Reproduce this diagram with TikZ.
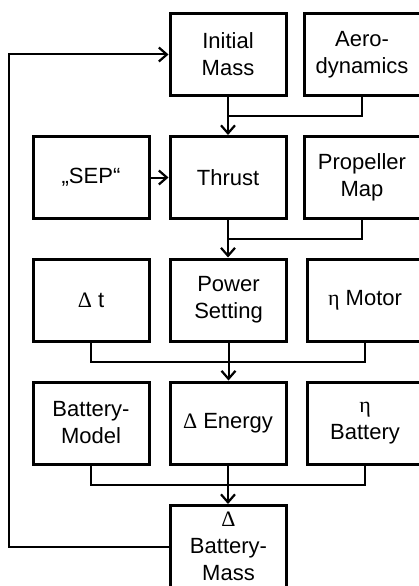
\documentclass[tikz,border=0pt]{standalone}
\usepackage{fontspec}
\setmainfont{Liberation Sans}
\newfontfamily\gkfont{Liberation Serif}
\usetikzlibrary{arrows.meta,calc}
\begin{document}
\begin{tikzpicture}[x=1pt,y=-1pt,
  box/.style={draw,line width=3pt,minimum width=116pt,minimum height=82pt,inner sep=0pt,align=center,
    font=\fontsize{22}{27}\selectfont},
  conn/.style={line width=2pt},
  arr/.style={conn,-{Straight Barb[length=8pt,width=14pt,line width=2.2pt]}}]
\useasboundingbox (0,0) rectangle (419,586);
\node[box] (im) at (228,54.5) {Initial\\Mass};
\node[box] (aero) at (362,54.5) {Aero-\\dynamics};
\node[box] (sep) at (91,177.5) {„SEP“};
\node[box] (thrust) at (228,177.5) {Thrust};
\node[box] (prop) at (362,177.5) {Propeller\\Map};
\node[box] (dt) at (91,300) {{\gkfont Δ} t};
\node[box] (power) at (228.5,300) {Power\\Setting};
\node[box] (emot) at (365,300) {{\gkfont η} Motor};
\node[box] (bmod) at (91,423) {Battery-\\Model};
\node[box] (energy) at (228,423) {{\gkfont Δ} Energy};
\node[box] (ebat) at (365,423) {{\gkfont η}\\Battery};
\node[box] (bm) at (228.5,546.5) {{\gkfont Δ}\\Battery-\\Mass};
\coordinate (fb) at (9,300);
% connectors
\draw[arr] (im.south) -- (thrust.north);
\draw[conn] (aero.south) |- ($(im.south)!.5!(thrust.north)$);
\draw[arr] (sep.east) -- (thrust.west);
\draw[arr] (thrust.south) -- (power.north -| thrust.south);
\draw[conn] (prop.south) |- ($(thrust.south)!.5!(power.north -| thrust.south)$);
\draw[arr] (power.south) -- (energy.north -| power.south);
\draw[conn] (dt.south) |- ($(power.south)!.5!(energy.north -| power.south)$) -| (emot.south);
\draw[arr] (energy.south) -- (bm.north -| energy.south);
\draw[conn] (bmod.south) |- ($(energy.south)!.5!(bm.north -| energy.south)$) -| (ebat.south);
\draw[arr] (bm.west) -- (bm.west -| fb) -- (im.west -| fb) -- (im.west);
\end{tikzpicture}
\end{document}
